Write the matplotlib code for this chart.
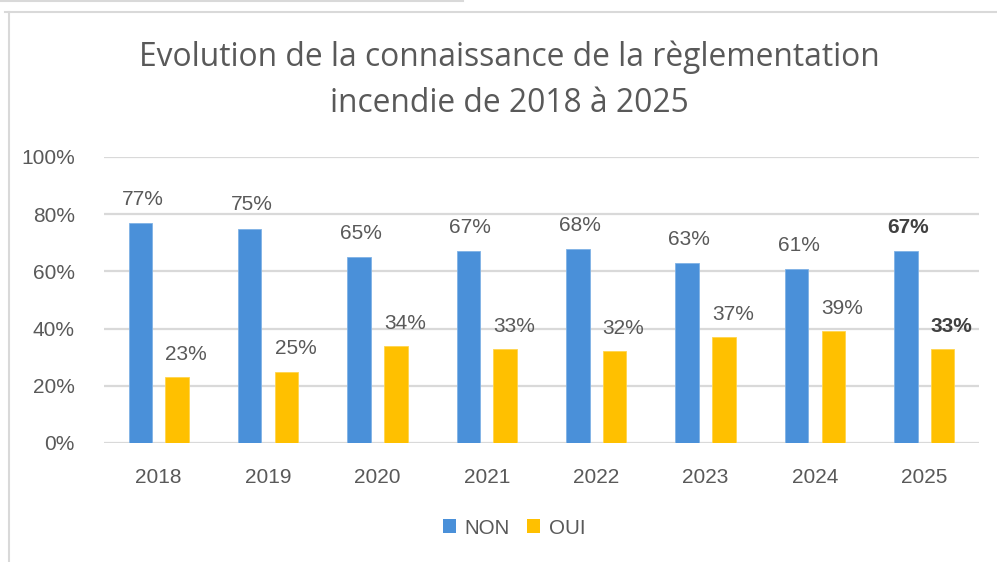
import matplotlib
matplotlib.use("Agg")
import matplotlib.pyplot as plt
from matplotlib.lines import Line2D
from matplotlib.patches import Patch
import numpy as np

years = ["2018", "2019", "2020", "2021", "2022", "2023", "2024", "2025"]
non = [0.77, 0.75, 0.65, 0.67, 0.68, 0.63, 0.61, 0.67]
oui = [0.23, 0.25, 0.34, 0.33, 0.32, 0.37, 0.39, 0.33]
yticks = [0, 0.2, 0.4, 0.6, 0.8, 1.0]
ytick_labels = ["0%", "20%", "40%", "60%", "80%", "100%"]
title_lines = ["Evolution de la connaissance de la règlementation", "incendie de 2018 à 2025"]

BLUE = "#4a90d9"
YELLOW = "#ffc000"
GRAY_TXT = "#595959"
GRID = "#d9d9d9"

W, H = 997, 562
fig = plt.figure(figsize=(W / 100, H / 100), dpi=100)
fig.patch.set_facecolor("white")

ax = fig.add_axes([104 / W, 1 - 443 / H, (979 - 104) / W, (443 - 157) / H])
x = np.arange(len(years))
off = 0.168
bw = 0.215
ax.bar(x - off, non, bw, color=BLUE, edgecolor="#7fb2e6", linewidth=0.6, zorder=3)
ax.bar(x + off, oui, bw, color=YELLOW, edgecolor="#ffd54d", linewidth=0.6, zorder=3)

ax.set_xlim(-0.5, len(years) - 0.5)
ax.set_ylim(0, 1.0)
ax.set_yticks(yticks)
ax.set_yticklabels(ytick_labels)
ax.set_xticks(x)
ax.set_xticklabels(years)
ax.tick_params(axis="both", length=0, labelsize=15, labelcolor=GRAY_TXT)
ax.tick_params(axis="y", pad=21)
ax.tick_params(axis="x", pad=18)
for lab in ax.get_xticklabels() + ax.get_yticklabels():
    lab.set_fontfamily("Liberation Sans")
ax.grid(axis="y", color=GRID, linewidth=1.6, zorder=0)
for s in ax.spines.values():
    s.set_visible(False)
ax.set_facecolor("white")

last = len(years) - 1
for i, v in enumerate(non):
    ax.annotate(f"{round(v*100)}%", (x[i] - off, v), xytext=(2, 18), textcoords="offset pixels",
                ha="center", va="baseline", fontsize=15, color=GRAY_TXT if i != last else "#404040",
                fontweight="bold" if i == last else "normal", family="Liberation Sans")
for i, v in enumerate(oui):
    ax.annotate(f"{round(v*100)}%", (x[i] + off, v), xytext=(9, 17), textcoords="offset pixels",
                ha="center", va="baseline", fontsize=15, color=GRAY_TXT if i != last else "#404040",
                fontweight="bold" if i == last else "normal", family="Liberation Sans")

for line, yb in zip(title_lines, [66.5, 112.5]):
    fig.text(509.5 / W, 1 - yb / H, line, ha="center", va="baseline", fontsize=22.9,
             color=GRAY_TXT, family="Open Sans")

handles = [Patch(facecolor=BLUE, edgecolor="none", label="NON"),
           Patch(facecolor=YELLOW, edgecolor="none", label="OUI")]
leg = fig.legend(handles=handles, loc="center", bbox_to_anchor=(514 / W, 1 - 528 / H), ncol=2,
                 frameon=False, handlelength=0.65, handleheight=0.65, handletextpad=0.4,
                 columnspacing=0.85, prop={"family": "Liberation Sans", "size": 14.8})
for t in leg.get_texts():
    t.set_color(GRAY_TXT)

# chart border lines
fig.add_artist(Line2D([5 / W, 1], [1 - 12 / H, 1 - 12 / H], color=GRID, linewidth=1.5, transform=fig.transFigure))
fig.add_artist(Line2D([9 / W, 9 / W], [1 - 12 / H, 0], color=GRID, linewidth=1.5, transform=fig.transFigure))
fig.add_artist(Line2D([0, 463 / W], [1 - 0.8 / H, 1 - 0.8 / H], color=GRID, linewidth=1.5, transform=fig.transFigure))

fig.savefig("out.png", dpi=100, facecolor="white")
